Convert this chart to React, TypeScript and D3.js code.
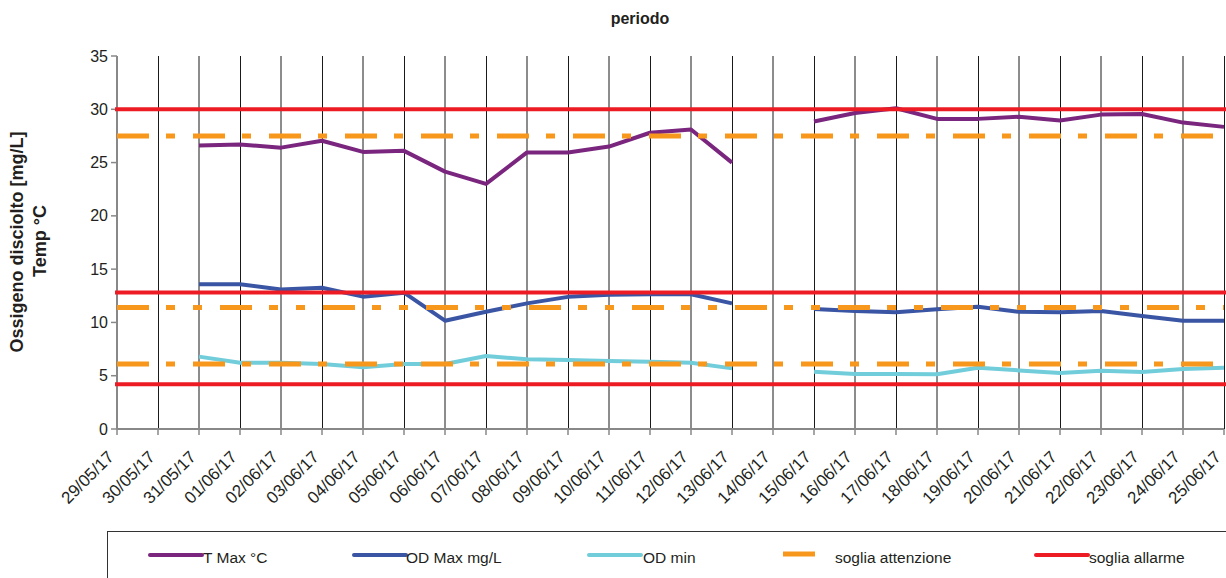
import React from "react";
import * as d3 from "d3";

const categories = [
  "29/05/17", "30/05/17", "31/05/17", "01/06/17", "02/06/17", "03/06/17", "04/06/17",
  "05/06/17", "06/06/17", "07/06/17", "08/06/17", "09/06/17", "10/06/17", "11/06/17",
  "12/06/17", "13/06/17", "14/06/17", "15/06/17", "16/06/17", "17/06/17", "18/06/17",
  "19/06/17", "20/06/17", "21/06/17", "22/06/17", "23/06/17", "24/06/17", "25/06/17",
];

const tMax: (number | null)[] = [
  null, null, 26.6, 26.7, 26.4, 27.05, 26.0, 26.1, 24.15, 23.0, 25.95, 25.95, 26.5, 27.8,
  28.1, 25.0, null, 28.85, 29.65, 30.1, 29.1, 29.1, 29.3, 28.95, 29.5, 29.55, 28.75, 28.35,
];

const odMax: (number | null)[] = [
  null, null, 13.58, 13.58, 13.1, 13.26, 12.42, 12.79, 10.16, 11.0, 11.79, 12.4, 12.6, 12.65,
  12.65, 11.79, null, 11.26, 11.07, 10.95, 11.23, 11.48, 11.0, 10.95, 11.07, 10.6, 10.16, 10.16,
];

const odMin: (number | null)[] = [
  null, null, 6.79, 6.22, 6.22, 6.1, 5.79, 6.1, 6.1, 6.85, 6.54, 6.47, 6.38, 6.32,
  6.22, 5.69, null, 5.38, 5.16, 5.16, 5.13, 5.75, 5.5, 5.25, 5.47, 5.35, 5.63, 5.75,
];

const sogliaAttenzione = [27.5, 11.4, 6.1];
const sogliaAllarme = [30, 12.8, 4.2];

const yTicks = [0, 5, 10, 15, 20, 25, 30, 35];

const legendLabels = ["T Max °C", "OD Max mg/L", "OD min", "soglia attenzione", "soglia allarme"];

const FONT = "'Liberation Sans', Arial, Helvetica, sans-serif";
const TEXT = "#231f20";
const C_PURPLE = "#7a267e";
const C_BLUE = "#3a55a4";
const C_CYAN = "#72cddb";
const C_ORANGE = "#f7981d";
const C_RED = "#ed1c24";

export default function App() {
  const W = 1226;
  const H = 578;
  const x = d3.scalePoint<string>().domain(categories).range([117, 1224]);
  const y = d3.scaleLinear().domain([0, 35]).range([429, 56]);

  const line = d3
    .line<number | null>()
    .defined((d) => d != null)
    .x((_, i) => x(categories[i]) as number)
    .y((d) => y(d as number))
    .curve(d3.curveLinear);

  const xFirst = x(categories[0]) as number;
  const xLast = x(categories[categories.length - 1]) as number;

  const hLine = d3
    .line<[number, number]>()
    .x((d) => d[0])
    .y((d) => d[1]);

  const attDash = ["32 17 9 18", "32 17 9 18 9 18", "32 17 9 18"];

  const series = [
    { data: tMax, color: C_PURPLE },
    { data: odMax, color: C_BLUE },
    { data: odMin, color: C_CYAN },
  ];

  const legendX = [150, 354, 589, 783, 1036];
  const legendTextX = [203, 406, 643, 835, 1089];
  const legendColors = [C_PURPLE, C_BLUE, C_CYAN, C_ORANGE, C_RED];

  return (
    <svg
      width={W}
      height={H}
      style={{ position: "absolute", left: 0, top: 0, background: "#fff" }}
      fontFamily={FONT}
    >
      <rect x={0} y={0} width={W} height={H} fill="#fff" />
      <text x={640} y={24} textAnchor="middle" fontSize={16} fontWeight="bold" fill={TEXT}>
        periodo
      </text>

      {/* vertical gridlines */}
      {categories.map((c, i) => (
        <line
          key={"g" + c}
          x1={(x(c) as number) + (i % 2 === 1 ? 0.5 : 0)}
          x2={(x(c) as number) + (i % 2 === 1 ? 0.5 : 0)}
          y1={y(35)}
          y2={y(0)}
          stroke="#1a1a1a"
          strokeWidth={1}
        />
      ))}

      {/* y axis */}
      <line x1={xFirst} x2={xFirst} y1={y(35)} y2={y(0)} stroke="#888" strokeWidth={1.8} />
      {yTicks.map((t) => (
        <g key={"yt" + t}>
          <line x1={xFirst - 6} x2={xFirst} y1={y(t)} y2={y(t)} stroke="#888" strokeWidth={1.5} />
          <text x={108} y={y(t)} dy="0.35em" textAnchor="end" fontSize={16} fill={TEXT}>
            {t}
          </text>
        </g>
      ))}

      {/* x axis */}
      <line x1={xFirst} x2={xLast} y1={y(0)} y2={y(0)} stroke="#888" strokeWidth={1.8} />
      {categories.map((c) => (
        <g key={"xt" + c}>
          <line x1={x(c)} x2={x(c)} y1={y(0)} y2={y(0) + 6} stroke="#888" strokeWidth={1.5} />
          <text
            transform={`translate(${(x(c) as number) - 2},${458}) rotate(-45)`}
            textAnchor="end"
            fontSize={17}
            fill={TEXT}
          >
            {c}
          </text>
        </g>
      ))}

      {/* data series */}
      {series.map((s, i) => (
        <path
          key={"s" + i}
          d={line(s.data) || ""}
          fill="none"
          stroke={s.color}
          strokeWidth={4}
          strokeLinejoin="round"
        />
      ))}

      {/* thresholds */}
      {sogliaAttenzione.map((v, i) => (
        <path
          key={"att" + i}
          d={hLine([[xFirst, y(v)], [xLast, y(v)]]) || ""}
          stroke={C_ORANGE}
          strokeWidth={5}
          strokeDasharray={attDash[i]}
          fill="none"
        />
      ))}
      {sogliaAllarme.map((v, i) => (
        <path
          key={"all" + i}
          d={hLine([[xFirst - 2, y(v)], [W, y(v)]]) || ""}
          stroke={C_RED}
          strokeWidth={4}
          fill="none"
        />
      ))}

      {/* y axis title */}
      <text
        transform="translate(23,242) rotate(-90)"
        textAnchor="middle"
        fontSize={18}
        fontWeight="bold"
        fill={TEXT}
      >
        Ossigeno disciolto [mg/L]
      </text>
      <text
        transform="translate(46,241) rotate(-90)"
        textAnchor="middle"
        fontSize={18}
        fontWeight="bold"
        fill={TEXT}
      >
        Temp °C
      </text>

      {/* legend */}
      <rect x={107.5} y={531.5} width={W} height={100} fill="none" stroke="#333" strokeWidth={1} />
      {legendLabels.map((lab, i) => (
        <g key={"lg" + i}>
          {i === 3 ? (
            <line
              x1={legendX[i]}
              x2={legendX[i] + 32}
              y1={554}
              y2={554}
              stroke={legendColors[i]}
              strokeWidth={5}
            />
          ) : (
            <line
              x1={legendX[i]}
              x2={legendX[i] + 52}
              y1={555}
              y2={555}
              stroke={legendColors[i]}
              strokeWidth={4}
              strokeLinecap="round"
            />
          )}
          <text x={legendTextX[i]} y={563} fontSize={15.5} fill={TEXT}>
            {lab}
          </text>
        </g>
      ))}
    </svg>
  );
}
